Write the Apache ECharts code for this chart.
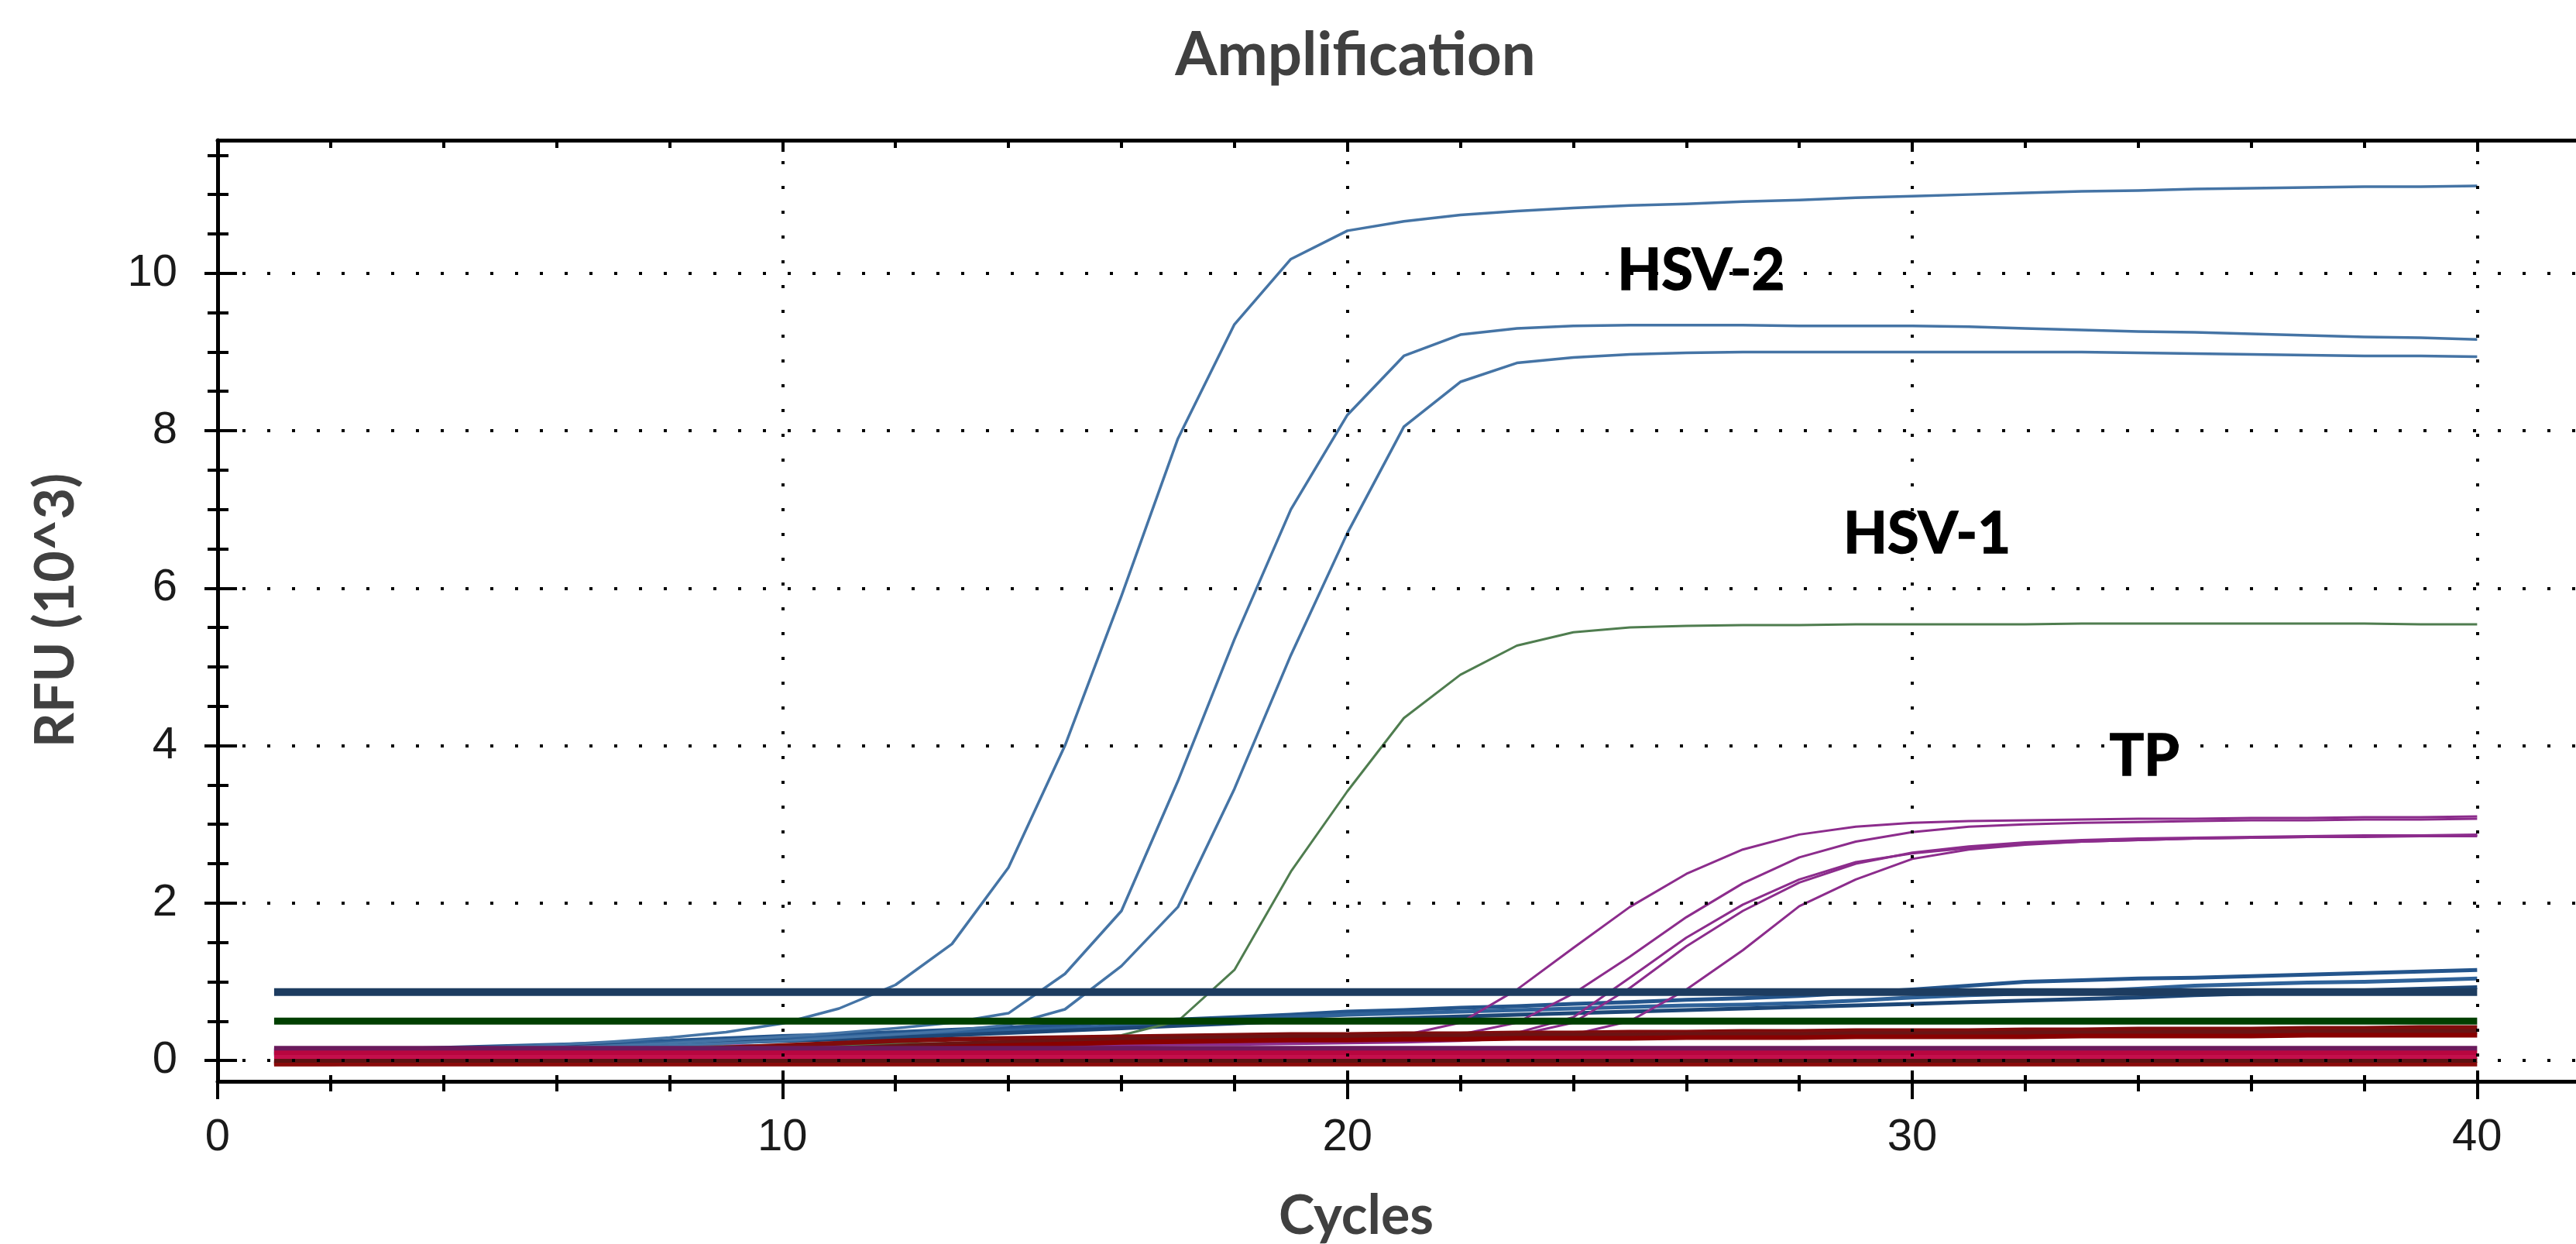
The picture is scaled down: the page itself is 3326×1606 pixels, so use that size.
<!DOCTYPE html>
<html><head><meta charset="utf-8">
<script src="https://cdn.jsdelivr.net/npm/echarts@6/dist/echarts.min.js"></script>
<style>html,body{margin:0;padding:0;background:#fff}#c{width:3326px;height:1606px}</style>
</head><body><div id="c"></div>
<script>
// ---- data (cycle-by-cycle RFU values, x10^3) ----
const cycles = [1,2,3,4,5,6,7,8,9,10,11,12,13,14,15,16,17,18,19,20,21,22,23,24,25,26,27,28,29,30,31,32,33,34,35,36,37,38,39,40];

const hsv2A = [0.08,0.10,0.12,0.14,0.17,0.20,0.24,0.29,0.36,0.47, 0.66,0.96,1.48,2.45,4.00,5.90,7.90,9.35,10.18,10.54, 10.66,10.74,10.79,10.83,10.86,10.88,10.91,10.93,10.96,10.98, 11.00,11.02,11.04,11.05,11.07,11.08,11.09,11.10,11.10,11.11];
const hsv2B = [0.06,0.08,0.10,0.12,0.14,0.16,0.19,0.22,0.26,0.30, 0.35,0.41,0.48,0.60,1.10,1.90,3.55,5.35,7.00,8.20, 8.95,9.22,9.30,9.33,9.34,9.34,9.34,9.33,9.33,9.33, 9.32,9.30,9.28,9.26,9.25,9.23,9.21,9.19,9.18,9.16];
const hsv2C = [0.05,0.07,0.09,0.10,0.12,0.14,0.16,0.19,0.22,0.25, 0.29,0.33,0.38,0.45,0.65,1.20,1.95,3.45,5.15,6.70, 8.05,8.62,8.86,8.93,8.97,8.99,9.00,9.00,9.00,9.00, 9.00,9.00,9.00,8.99,8.98,8.97,8.96,8.95,8.95,8.94];
const hsv1D = [0.10,0.11,0.12,0.13,0.14,0.15,0.16,0.17,0.18,0.19, 0.20,0.21,0.22,0.24,0.27,0.32,0.50,1.15,2.40,3.42, 4.35,4.90,5.27,5.44,5.50,5.52,5.53,5.53,5.54,5.54, 5.54,5.54,5.55,5.55,5.55,5.55,5.55,5.55,5.54,5.54];

const tp1 = [0.15,0.15,0.16,0.16,0.17,0.17,0.18,0.18,0.19,0.19, 0.20,0.20,0.21,0.21,0.22,0.22,0.23,0.24,0.25,0.27, 0.32,0.48,0.90,1.43,1.95,2.37,2.68,2.87,2.97,3.02, 3.04,3.05,3.06,3.07,3.07,3.08,3.08,3.09,3.09,3.10];
const tp2 = [0.14,0.14,0.15,0.15,0.16,0.16,0.17,0.17,0.18,0.18, 0.19,0.19,0.20,0.20,0.21,0.21,0.22,0.23,0.24,0.25, 0.28,0.33,0.48,0.85,1.32,1.82,2.25,2.58,2.78,2.90, 2.97,3.00,3.02,3.03,3.04,3.05,3.05,3.06,3.06,3.07];
const tp3 = [0.13,0.13,0.14,0.14,0.15,0.15,0.16,0.16,0.17,0.17, 0.18,0.18,0.19,0.19,0.20,0.20,0.21,0.22,0.23,0.24, 0.25,0.28,0.35,0.55,1.05,1.56,1.98,2.30,2.52,2.63, 2.70,2.75,2.78,2.80,2.82,2.83,2.84,2.85,2.85,2.86];
const tp4 = [0.13,0.13,0.13,0.14,0.14,0.15,0.15,0.16,0.16,0.17, 0.17,0.18,0.18,0.19,0.19,0.20,0.20,0.21,0.22,0.23, 0.24,0.27,0.32,0.48,0.92,1.45,1.90,2.26,2.50,2.64, 2.72,2.77,2.80,2.82,2.83,2.84,2.85,2.86,2.86,2.87];
const tp5 = [0.12,0.12,0.13,0.13,0.14,0.14,0.15,0.15,0.16,0.16, 0.17,0.17,0.18,0.18,0.19,0.19,0.20,0.20,0.21,0.22, 0.23,0.25,0.28,0.33,0.50,0.90,1.40,1.96,2.30,2.56, 2.68,2.74,2.78,2.80,2.82,2.83,2.84,2.84,2.85,2.85];

const blueDrift1 = [0.10,0.12,0.14,0.16,0.18,0.20,0.22,0.25,0.28,0.31, 0.33,0.36,0.39,0.42,0.45,0.49,0.52,0.55,0.58,0.62, 0.64,0.67,0.69,0.72,0.74,0.77,0.79,0.82,0.86,0.90, 0.95,1.00,1.02,1.04,1.05,1.07,1.09,1.11,1.13,1.15];
const blueDrift2 = [0.09,0.11,0.13,0.15,0.17,0.19,0.21,0.23,0.26,0.28, 0.30,0.33,0.35,0.38,0.41,0.44,0.48,0.51,0.55,0.58, 0.60,0.62,0.64,0.66,0.68,0.70,0.71,0.73,0.76,0.80, 0.83,0.85,0.88,0.91,0.95,0.97,0.99,1.00,1.02,1.04];
const blueDrift3 = [0.08,0.10,0.11,0.13,0.15,0.17,0.19,0.21,0.23,0.25, 0.27,0.29,0.32,0.35,0.38,0.41,0.44,0.47,0.50,0.52, 0.54,0.56,0.58,0.60,0.62,0.64,0.66,0.68,0.70,0.72, 0.74,0.76,0.78,0.80,0.83,0.85,0.87,0.89,0.91,0.93];

const redDrift1 = [-0.02,-0.02,-0.01,0.00,0.02,0.05,0.08,0.12,0.16,0.19, 0.22,0.25,0.27,0.28,0.29,0.30,0.31,0.32,0.33,0.33, 0.34,0.34,0.35,0.35,0.36,0.36,0.37,0.37,0.38,0.38, 0.38,0.39,0.39,0.40,0.40,0.40,0.41,0.41,0.42,0.42];
const redDrift2 = [-0.03,-0.03,-0.02,-0.01,0.00,0.01,0.03,0.06,0.09,0.12, 0.15,0.18,0.21,0.23,0.25,0.27,0.28,0.29,0.30,0.30, 0.31,0.31,0.32,0.32,0.32,0.33,0.33,0.33,0.34,0.34, 0.34,0.35,0.35,0.35,0.36,0.36,0.36,0.37,0.37,0.37];
const redDrift3 = [-0.04,-0.04,-0.03,-0.03,-0.02,-0.01,0.00,0.02,0.05,0.08, 0.11,0.14,0.17,0.19,0.21,0.23,0.24,0.25,0.26,0.26, 0.27,0.27,0.28,0.28,0.28,0.29,0.29,0.29,0.30,0.30, 0.30,0.30,0.31,0.31,0.31,0.31,0.32,0.32,0.32,0.32];

const navyFlat    = [0.87,0.87,0.87,0.87,0.87,0.87,0.87,0.87,0.87,0.87, 0.87,0.87,0.87,0.87,0.87,0.87,0.87,0.87,0.87,0.87, 0.87,0.87,0.87,0.87,0.87,0.87,0.87,0.87,0.87,0.87, 0.87,0.87,0.87,0.87,0.87,0.87,0.87,0.87,0.87,0.87];
const greenFlat   = [0.50,0.50,0.50,0.50,0.50,0.50,0.50,0.50,0.50,0.50, 0.50,0.50,0.50,0.50,0.50,0.50,0.50,0.50,0.50,0.50, 0.50,0.50,0.50,0.50,0.50,0.50,0.50,0.50,0.50,0.50, 0.50,0.50,0.50,0.50,0.50,0.50,0.50,0.50,0.50,0.50];
const purpleFlat  = [0.155,0.155,0.155,0.155,0.155,0.155,0.155,0.155,0.155,0.155, 0.155,0.155,0.155,0.155,0.155,0.155,0.155,0.155,0.155,0.155, 0.155,0.155,0.155,0.155,0.155,0.155,0.155,0.155,0.155,0.155, 0.155,0.155,0.155,0.155,0.155,0.155,0.155,0.155,0.155,0.155];
const crimsonFlat1 = [0.10,0.10,0.10,0.10,0.10,0.10,0.10,0.10,0.10,0.10, 0.10,0.10,0.10,0.10,0.10,0.10,0.10,0.10,0.10,0.10, 0.10,0.10,0.10,0.10,0.10,0.10,0.10,0.10,0.10,0.10, 0.10,0.10,0.10,0.10,0.10,0.10,0.10,0.10,0.10,0.10];
const crimsonFlat2 = [0.05,0.05,0.05,0.05,0.05,0.05,0.05,0.05,0.05,0.05, 0.05,0.05,0.05,0.05,0.05,0.05,0.05,0.05,0.05,0.05, 0.05,0.05,0.05,0.05,0.05,0.05,0.05,0.05,0.05,0.05, 0.05,0.05,0.05,0.05,0.05,0.05,0.05,0.05,0.05,0.05];
const redFlat1 = [0.00,0.00,0.00,0.00,0.00,0.00,0.00,0.00,0.00,0.00, 0.00,0.00,0.00,0.00,0.00,0.00,0.00,0.00,0.00,0.00, 0.00,0.00,0.00,0.00,0.00,0.00,0.00,0.00,0.00,0.00, 0.00,0.00,0.00,0.00,0.00,0.00,0.00,0.00,0.00,0.00];
const redFlat2 = [-0.045,-0.045,-0.045,-0.045,-0.045,-0.045,-0.045,-0.045,-0.045,-0.045, -0.045,-0.045,-0.045,-0.045,-0.045,-0.045,-0.045,-0.045,-0.045,-0.045, -0.045,-0.045,-0.045,-0.045,-0.045,-0.045,-0.045,-0.045,-0.045,-0.045, -0.045,-0.045,-0.045,-0.045,-0.045,-0.045,-0.045,-0.045,-0.045,-0.045];

// ---- axes / ticks / labels ----
const xMajorTicks = [0,10,20,30,40];
const xMinorTicks = [2,4,6,8,12,14,16,18,22,24,26,28,32,34,36,38];
const yMajorTicks = [0,2,4,6,8,10];
const yMinorTicks = [0.5,1,1.5,2.5,3,3.5,4.5,5,5.5,6.5,7,7.5,8.5,9,9.5,10.5,11,11.5];
const xGridLines = [10,20,30,40];
const yGridLines = [0,2,4,6,8,10];

const annoText = ['HSV-2','HSV-1','TP'];
const annoX = [26.26, 30.26, 34.11];
const annoY = [10.03, 6.68, 3.86];

const titleText = 'Amplification';
const xName = 'Cycles';
const yName = 'RFU (10^3)';

// ---- build ----
function pts(vals){ return cycles.map((c,i)=>[c, vals[i]]); }
function line(name, vals, color, width){
  return {type:'line', name, data:pts(vals), showSymbol:false, symbol:'none', silent:true,
    lineStyle:{color, width, join:'round', cap:'butt'}, xAxisIndex:0, yAxisIndex:0};
}
const tickStyle = {color:'#000', width:4};
const xBase = {type:'value', min:0, max:41.75, gridIndex:0, splitLine:{show:false},
  axisLabel:{show:false}, axisLine:{show:false, onZero:false}, axisTick:{show:false}};
const yBase = {type:'value', min:-0.265, max:11.69, gridIndex:0, position:'left', splitLine:{show:false},
  axisLabel:{show:false}, axisLine:{show:false, onZero:false}, axisTick:{show:false}};

const gridSeries = line('grid', [], '#000', 0);
gridSeries.data = [];
gridSeries.markLine = {
  silent:true, symbol:['none','none'], animation:false, label:{show:false},
  lineStyle:{color:'#000', width:4, type:[4,28]},
  data: xGridLines.map(v=>({xAxis:v})).concat(yGridLines.map(v=>({yAxis:v})))
};

const series = [
  gridSeries,
  line('drift1', blueDrift1, '#24558c', 5),
  line('drift2', blueDrift2, '#2f6299', 5),
  line('drift3', blueDrift3, '#1d4777', 5),
  line('TP1', tp1, '#8c2c8c', 3),
  line('TP2', tp2, '#8c2c8c', 3),
  line('TP3', tp3, '#8c2c8c', 3),
  line('TP4', tp4, '#8c2c8c', 3),
  line('TP5', tp5, '#8c2c8c', 3),
  line('HSV-1', hsv1D, '#4f7d4f', 3),
  line('HSV-2a', hsv2A, '#4574a5', 3.5),
  line('HSV-2b', hsv2B, '#4574a5', 3.5),
  line('HSV-2c', hsv2C, '#4574a5', 3.5),
  line('r1', redDrift1, '#7f0c0c', 6),
  line('r2', redDrift2, '#6a1414', 6),
  line('r3', redDrift3, '#880000', 6),
  line('rf2', redFlat2, '#8a0a0a', 6),
  line('rf1', redFlat1, '#5e1212', 6),
  line('c2', crimsonFlat2, '#c40f4c', 6),
  line('c1', crimsonFlat1, '#b8063f', 6),
  line('p', purpleFlat, '#6a1a5c', 6),
  line('g', greenFlat, '#003f00', 9),
  line('n', navyFlat, '#1d3c60', 10)
];

const baseGraphic = [
  {type:'text', x:1750, y:72, style:{text:titleText, fill:'#404040', fontFamily:'Lato', fontWeight:'bold', fontSize:78, align:'center', verticalAlign:'middle'}},
  {type:'text', x:1751, y:1570, style:{text:xName, fill:'#404040', fontFamily:'Lato', fontWeight:'bold', fontSize:70, align:'center', verticalAlign:'middle'}},
  {type:'text', x:72, y:788, rotation:Math.PI/2, style:{text:yName, fill:'#404040', fontFamily:'Lato', fontWeight:'bold', fontSize:70, align:'center', verticalAlign:'middle'}}
];

const chart = echarts.init(document.getElementById('c'), null, {renderer:'canvas'});
chart.setOption({
  animation:false,
  backgroundColor:'#fff',
  grid:{left:281, top:181, right:0, bottom:210, containLabel:false},
  xAxis:[
    Object.assign({}, xBase, {position:'bottom',
      axisLine:{show:true, onZero:false, lineStyle:{color:'#000', width:5}},
      axisTick:{show:true, customValues:xMajorTicks, length:23, lineStyle:tickStyle},
      axisLabel:{show:true, customValues:xMajorTicks, margin:44, fontSize:58, fontFamily:'Liberation Sans', color:'#1a1a1a'}}),
    Object.assign({}, xBase, {position:'bottom', axisTick:{show:true, inside:true, customValues:xMajorTicks, length:14, lineStyle:tickStyle}}),
    Object.assign({}, xBase, {position:'bottom', axisTick:{show:true, customValues:xMinorTicks, length:13, lineStyle:tickStyle}}),
    Object.assign({}, xBase, {position:'bottom', axisTick:{show:true, inside:true, customValues:xMinorTicks, length:8, lineStyle:tickStyle}}),
    Object.assign({}, xBase, {position:'top',
      axisLine:{show:true, onZero:false, lineStyle:{color:'#000', width:5}},
      axisTick:{show:true, inside:true, customValues:xMajorTicks, length:15, lineStyle:tickStyle}}),
    Object.assign({}, xBase, {position:'top', axisTick:{show:true, inside:true, customValues:xMinorTicks, length:10, lineStyle:tickStyle}})
  ],
  yAxis:[
    Object.assign({}, yBase, {
      axisLine:{show:true, onZero:false, lineStyle:{color:'#000', width:5}},
      axisTick:{show:true, customValues:yMajorTicks, length:17, lineStyle:tickStyle},
      axisLabel:{show:true, customValues:yMajorTicks, margin:52, fontSize:58, fontFamily:'Liberation Sans', color:'#1a1a1a'}}),
    Object.assign({}, yBase, {axisTick:{show:true, inside:true, customValues:yMajorTicks, length:25, lineStyle:tickStyle}}),
    Object.assign({}, yBase, {axisTick:{show:true, customValues:yMinorTicks, length:13, lineStyle:tickStyle}}),
    Object.assign({}, yBase, {axisTick:{show:true, inside:true, customValues:yMinorTicks, length:14, lineStyle:tickStyle}})
  ],
  graphic: baseGraphic,
  series
});

// annotation labels placed at data coordinates through the chart's own scales
const annoGraphic = annoText.map((t,i)=>{
  const p = chart.convertToPixel({xAxisIndex:0, yAxisIndex:0}, [annoX[i], annoY[i]]);
  return {type:'text', x:p[0], y:p[1], z:100,
    style:{text:t, fill:'#000', stroke:'#000', lineWidth:1.5, fontFamily:'Lato', fontWeight:'bold', fontSize:74, align:'center', verticalAlign:'middle'}};
});
chart.setOption({graphic: baseGraphic.concat(annoGraphic)});
</script></body></html>
